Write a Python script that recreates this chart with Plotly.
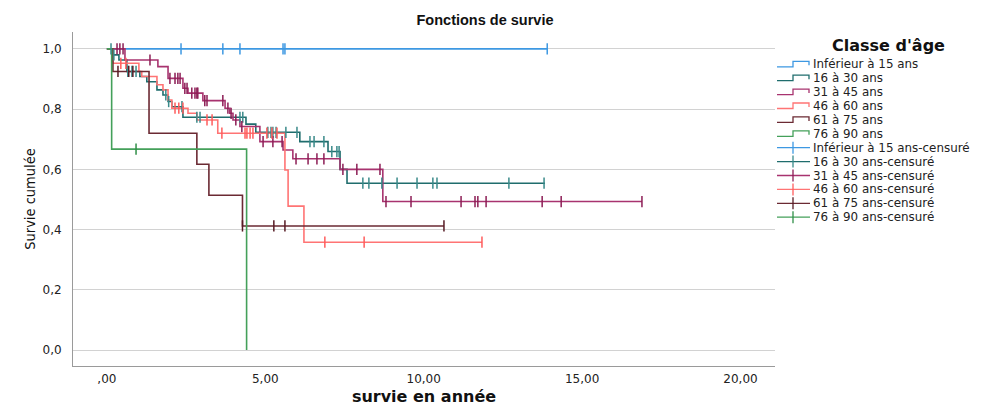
import plotly.graph_objects as go

# ---------------- data ----------------
groups = ["Inférieur à 15 ans", "16 à 30 ans", "31 à 45 ans",
          "46 à 60 ans", "61 à 75 ans", "76 à 90 ans"]

ev_t_lt15 = []
ev_s_lt15 = []
end_lt15 = 13.90
cens_lt15 = [2.34, 3.66, 4.20, 5.56, 5.62, 13.90]

ev_t_16_30 = [0.19, 0.38, 0.63, 1.04, 1.26, 1.58, 1.77, 1.93, 2.05, 2.40,
              4.39, 4.70, 6.09, 6.98, 7.36, 7.58]
ev_s_16_30 = [0.980, 0.963, 0.925, 0.908, 0.891, 0.864, 0.847, 0.825, 0.808, 0.773,
              0.750, 0.723, 0.692, 0.659, 0.600, 0.554]
end_16_30 = 13.83
cens_16_30 = [0.13, 0.22, 0.66, 0.79, 0.92, 1.86, 1.95, 2.37, 2.84, 2.94, 4.20, 4.29,
              5.08, 5.18, 5.24, 5.34, 5.65, 6.00, 6.41, 6.54, 6.85, 7.10, 7.26, 7.33,
              8.08, 8.27, 8.68, 9.16, 9.79, 10.29, 10.42, 12.69, 13.80]

ev_t_31_45 = [0.57, 1.61, 1.93, 2.40, 2.56, 3.03, 3.73, 3.88, 3.98, 4.20,
              4.83, 5.56, 5.87, 7.36, 8.71]
ev_s_31_45 = [0.963, 0.941, 0.902, 0.869, 0.853, 0.828, 0.803, 0.786, 0.764, 0.742,
              0.692, 0.664, 0.635, 0.600, 0.493]
end_31_45 = 16.89
cens_31_45 = [0.32, 0.41, 0.51, 1.36, 1.99, 2.15, 2.24, 2.31, 2.46, 2.53, 2.68, 2.78,
              2.84, 2.87, 3.09, 3.16, 3.66, 3.82, 3.92, 4.07, 4.26, 4.93, 5.24, 5.53,
              5.97, 6.35, 6.63, 6.85, 7.45, 7.89, 8.62, 8.81, 9.60, 11.18, 11.62, 11.71,
              11.97, 13.74, 14.34, 16.89]

ev_t_46_60 = [0.19, 1.01, 1.10, 1.58, 1.77, 1.93, 2.05, 2.56, 2.84, 3.50, 5.62, 5.72, 6.22]
ev_s_46_60 = [0.952, 0.925, 0.908, 0.881, 0.864, 0.830, 0.803, 0.786, 0.764, 0.720,
              0.598, 0.478, 0.358]
end_46_60 = 11.84
cens_46_60 = [0.44, 0.60, 2.15, 2.27, 2.40, 3.16, 3.32, 3.63, 4.36, 4.42, 4.52, 4.61,
              5.05, 5.21, 5.37, 6.88, 8.12, 11.84]

ev_t_61_75 = [0.19, 1.33, 2.84, 3.22, 4.28]
ev_s_61_75 = [0.925, 0.720, 0.617, 0.514, 0.412]
end_61_75 = 10.64
cens_61_75 = [0.35, 0.69, 0.82, 4.28, 5.27, 5.62, 10.64]

ev_t_76_90 = [0.15, 4.41]
ev_s_76_90 = [0.667, 0.0]
end_76_90 = 4.41
cens_76_90 = [0.92]

x_tickvals = [0, 5, 10, 15, 20]
x_ticktext = [",00", "5,00", "10,00", "15,00", "20,00"]
y_tickvals = [0.0, 0.2, 0.4, 0.6, 0.8, 1.0]

line_colors = ["#3d98e2", "#1f6d6d", "#a8336f", "#ff7474", "#6b2a33", "#44a05a"]
cens_colors = ["#3d98e2", "#3a8a8a", "#8c1d55", "#ff5c5c", "#561b24", "#2f8f47"]

event_times = [ev_t_lt15, ev_t_16_30, ev_t_31_45, ev_t_46_60, ev_t_61_75, ev_t_76_90]
event_surv = [ev_s_lt15, ev_s_16_30, ev_s_31_45, ev_s_46_60, ev_s_61_75, ev_s_76_90]
end_times = [end_lt15, end_16_30, end_31_45, end_46_60, end_61_75, end_76_90]
censored = [cens_lt15, cens_16_30, cens_31_45, cens_46_60, cens_61_75, cens_76_90]


def surv_at(t, times, surv):
    s = 1.0
    for ti, si in zip(times, surv):
        if ti <= t + 1e-9:
            s = si
    return s


fig = go.Figure()
for i, g in enumerate(groups):
    xs = [0.0] + list(event_times[i])
    ys = [1.0] + list(event_surv[i])
    if end_times[i] > xs[-1]:
        xs.append(end_times[i])
        ys.append(ys[-1])
    fig.add_trace(go.Scatter(x=xs, y=ys, mode="lines", line_shape="hv",
                             line=dict(color=line_colors[i], width=1.6),
                             name=g, showlegend=False, hoverinfo="skip"))

for i, g in enumerate(groups):
    cy = [surv_at(t, event_times[i], event_surv[i]) for t in censored[i]]
    fig.add_trace(go.Scatter(x=censored[i], y=cy, mode="markers",
                             marker=dict(symbol="line-ns", size=8,
                                         line=dict(color=cens_colors[i], width=1.5)),
                             name=g + "-censuré", showlegend=False))

# ---------------- layout ----------------
OFF = 8                      # page body margin
W, H = 999 - OFF, 408 - OFF
L, T = 73 - OFF, 32 - OFF
R = W - (775 - OFF)
B = H - (366 - OFF)
PW, PH = W - L - R, H - T - B


def px(xs_):
    return (xs_ - OFF - L) / PW


def py(ys_):
    return (H - B - (ys_ - OFF)) / PH


annotations = []
shapes = []
annotations.append(dict(text="<b>Classe d'âge</b>", x=px(888), y=py(45), xref="paper", yref="paper",
                        xanchor="center", yanchor="middle", showarrow=False,
                        font=dict(family="DejaVu Sans", size=16, color="#111")))
labels = groups + [g + "-censuré" for g in groups]
for k, lab in enumerate(labels):
    yc = 64.3 + 13.9 * k
    annotations.append(dict(text=lab, x=px(811), y=py(yc), xref="paper", yref="paper",
                            xanchor="left", yanchor="middle", showarrow=False,
                            font=dict(family="DejaVu Sans", size=11.9, color="#222")))
    if k < 6:
        c = line_colors[k]
        path = "M {a},{b} L {c_},{b} L {c_},{d} L {e},{d} L {e},{f}".format(
            a=px(777), b=py(yc + 2.5), c_=px(793), d=py(yc - 3), e=px(809), f=py(yc + 1))
        shapes.append(dict(type="path", path=path, xref="paper", yref="paper",
                           line=dict(color=c, width=1.3)))
    else:
        c = cens_colors[k - 6]
        shapes.append(dict(type="line", x0=px(777), x1=px(810), y0=py(yc), y1=py(yc),
                           xref="paper", yref="paper", line=dict(color=line_colors[k - 6], width=1.3)))
        shapes.append(dict(type="line", x0=px(793), x1=px(793), y0=py(yc - 6), y1=py(yc + 6),
                           xref="paper", yref="paper", line=dict(color=c, width=1.3)))

fig.update_layout(
    width=W, height=H,
    margin=dict(l=L, r=R, t=T, b=B, autoexpand=False),
    paper_bgcolor="white", plot_bgcolor="white",
    separators=", ",
    title=dict(text="<b>Fonctions de survie</b>", x=(485 - OFF) / W, xref="container", xanchor="center",
               y=1 - (20 - OFF) / H, yref="container", yanchor="middle",
               font=dict(family="Liberation Sans, Arial, sans-serif", size=14.5, color="#111")),
    xaxis=dict(range=[-1.07, 21.09], tickvals=x_tickvals, ticktext=x_ticktext,
               showgrid=False, zeroline=False, showline=True, linecolor="#9a9a9a", linewidth=1,
               ticks="", ticklabelstandoff=2,
               tickfont=dict(family="DejaVu Sans", size=12, color="#222"),
               title=dict(text="<b>survie en année</b>", standoff=5,
                          font=dict(family="DejaVu Sans", size=16, color="#111"))),
    yaxis=dict(range=[-0.053, 1.056], tickvals=y_tickvals, tickformat=".1f",
               showgrid=True, gridcolor="#d2d2d2", gridwidth=1, zeroline=False,
               showline=True, linecolor="#9a9a9a", linewidth=1,
               ticks="", ticklabelstandoff=8,
               tickfont=dict(family="DejaVu Sans", size=12, color="#222"),
               title=dict(text="Survie cumulée", standoff=3,
                          font=dict(family="DejaVu Sans Condensed, Liberation Sans Narrow, sans-serif",
                                    size=14.5, color="#111"))),
    annotations=annotations, shapes=shapes,
)
fig.update_xaxes(automargin=False)
fig.update_yaxes(automargin=False)

fig.write_html("out.html")
